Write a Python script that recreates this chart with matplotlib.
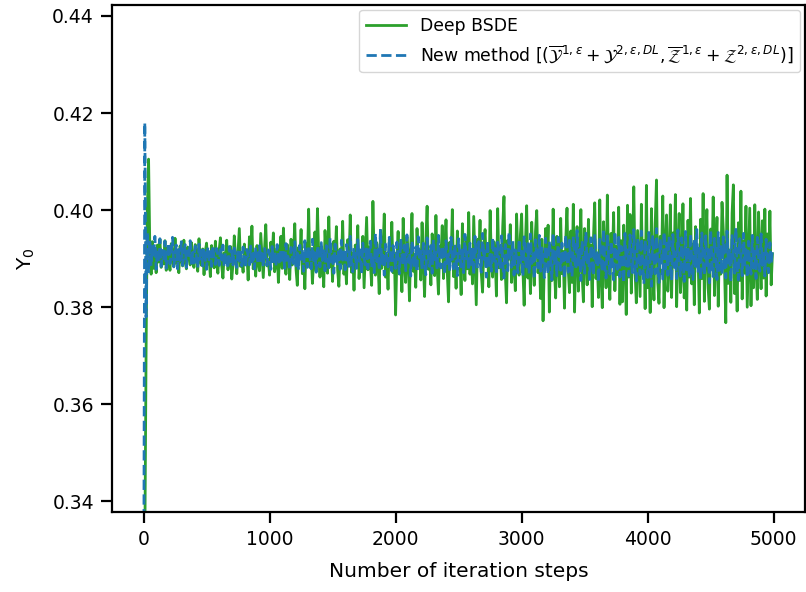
import numpy as np
import matplotlib
matplotlib.use("Agg")
import matplotlib.pyplot as plt

steps = list(range(0, 5000, 10))

deep_bsde = [
    0.3000, 0.3300, 0.3700, 0.4000, 0.4105, 0.3920, 0.3868, 0.3935, 0.3880, 0.3912, 0.3871, 0.3928, 0.3893, 0.3940, 0.3882, 0.3915, 0.3889, 0.3937, 0.3876, 0.3921,
    0.3897, 0.3876, 0.3931, 0.3905, 0.3884, 0.3942, 0.3890, 0.3918, 0.3871, 0.3926, 0.3902, 0.3885, 0.3938, 0.3894, 0.3879, 0.3924, 0.3908, 0.3887, 0.3933, 0.3899,
    0.3882, 0.3929, 0.3910, 0.3874, 0.3941, 0.3895, 0.3886, 0.3920, 0.3867, 0.3914, 0.3932, 0.3889, 0.3903, 0.3863, 0.3927, 0.3898, 0.3881, 0.3936, 0.3892, 0.3870,
    0.3918, 0.3943, 0.3886, 0.3860, 0.3912, 0.3895, 0.3938, 0.3877, 0.3905, 0.3925, 0.3858, 0.3890, 0.3947, 0.3901, 0.3869, 0.3916, 0.3962, 0.3884, 0.3899, 0.3872,
    0.3930, 0.3888, 0.3911, 0.3856, 0.3945, 0.3896, 0.3967, 0.3879, 0.3903, 0.3864, 0.3927, 0.3892, 0.3875, 0.3952, 0.3908, 0.3861, 0.3919, 0.3970, 0.3885, 0.3898,
    0.3866, 0.3934, 0.3901, 0.3953, 0.3873, 0.3889, 0.3922, 0.3851, 0.3910, 0.3946, 0.3880, 0.3963, 0.3894, 0.3868, 0.3929, 0.3904, 0.3857, 0.3940, 0.3887, 0.3915,
    0.3972, 0.3878, 0.3845, 0.3923, 0.3900, 0.3960, 0.3869, 0.3906, 0.3838, 0.3931, 0.3891, 0.4002, 0.3882, 0.3917, 0.3849, 0.3897, 0.3955, 0.3874, 0.4003, 0.3909,
    0.3862, 0.3925, 0.3893, 0.3842, 0.3958, 0.3904, 0.3870, 0.3986, 0.3884, 0.3915, 0.3853, 0.3936, 0.3898, 0.3966, 0.3876, 0.3843, 0.3920, 0.3890, 0.3977, 0.3868,
    0.3905, 0.3848, 0.3939, 0.3886, 0.3990, 0.3872, 0.3911, 0.3835, 0.3928, 0.3895, 0.3968, 0.3859, 0.3902, 0.3882, 0.3946, 0.3840, 0.3914, 0.3985, 0.3877, 0.3924,
    0.3889, 0.3845, 0.4018, 0.3903, 0.3866, 0.3933, 0.3896, 0.3828, 0.3958, 0.3880, 0.3919, 0.3992, 0.3862, 0.3907, 0.3837, 0.3941, 0.3887, 0.3975, 0.3871, 0.3912,
    0.3784, 0.3899, 0.3956, 0.3868, 0.3922, 0.3832, 0.3983, 0.3890, 0.3851, 0.3945, 0.3908, 0.3813, 0.3929, 0.3993, 0.3874, 0.3902, 0.3841, 0.3962, 0.3885, 0.3917,
    0.3856, 0.3974, 0.3893, 0.3822, 0.3937, 0.4008, 0.3878, 0.3912, 0.3846, 0.3951, 0.3897, 0.3865, 0.3989, 0.3883, 0.3827, 0.3926, 0.3904, 0.3968, 0.3859, 0.3915,
    0.3980, 0.3872, 0.3811, 0.3934, 0.3895, 0.4001, 0.3863, 0.3920, 0.3839, 0.3957, 0.3888, 0.3910, 0.3826, 0.3972, 0.3901, 0.3855, 0.3943, 0.3879, 0.3995, 0.3868,
    0.3917, 0.3848, 0.3987, 0.3892, 0.3805, 0.3940, 0.3906, 0.3979, 0.3870, 0.3831, 0.3928, 0.3960, 0.3884, 0.3913, 0.3842, 0.3999, 0.3896, 0.3862, 0.3935, 0.3903,
    0.3823, 0.4003, 0.3881, 0.3924, 0.3857, 0.3966, 0.4028, 0.3874, 0.3809, 0.3938, 0.3899, 0.3970, 0.3851, 0.3918, 0.3887, 0.3834, 0.3992, 0.3905, 0.3866, 0.3948,
    0.3992, 0.3877, 0.3804, 0.3931, 0.4009, 0.3860, 0.3914, 0.3828, 0.3975, 0.3895, 0.3845, 0.3956, 0.3999, 0.3871, 0.3920, 0.3818, 0.3940, 0.3772, 0.3888, 0.3962,
    0.3893, 0.3969, 0.3790, 0.3927, 0.3855, 0.4002, 0.3884, 0.3819, 0.3946, 0.3906, 0.3842, 0.3983, 0.3869, 0.3915, 0.3798, 0.3938, 0.4004, 0.3876, 0.3830, 0.3957,
    0.3851, 0.4012, 0.3790, 0.3923, 0.3966, 0.3833, 0.3898, 0.4001, 0.3867, 0.3811, 0.3962, 0.3909, 0.3846, 0.3981, 0.3875, 0.3928, 0.3801, 0.3944, 0.4015, 0.3859,
    0.3890, 0.3820, 0.4021, 0.3865, 0.3799, 0.3976, 0.3912, 0.3840, 0.4031, 0.3880, 0.3816, 0.3952, 0.3898, 0.3995, 0.3834, 0.3925, 0.3867, 0.4006, 0.3806, 0.3937,
    0.3811, 0.3969, 0.3903, 0.3785, 0.4010, 0.3862, 0.3991, 0.3829, 0.3920, 0.4048, 0.3874, 0.3809, 0.3958, 0.3891, 0.3822, 0.4012, 0.3869, 0.3937, 0.3797, 0.4051,
    0.3840, 0.3902, 0.3789, 0.4003, 0.3881, 0.3815, 0.3972, 0.4062, 0.3852, 0.3808, 0.3946, 0.3894, 0.4029, 0.3799, 0.3925, 0.3990, 0.3833, 0.3879, 0.4011, 0.3820,
    0.3953, 0.3886, 0.4032, 0.3801, 0.3918, 0.3993, 0.3830, 0.3875, 0.4013, 0.3819, 0.3905, 0.3794, 0.3979, 0.3862, 0.4024, 0.3848, 0.3930, 0.3805, 0.3966, 0.3897,
    0.3902, 0.3788, 0.3981, 0.3859, 0.4034, 0.3812, 0.3929, 0.4001, 0.3839, 0.3796, 0.3961, 0.3885, 0.4027, 0.3824, 0.3910, 0.3985, 0.3802, 0.3942, 0.3868, 0.4016,
    0.3960, 0.3878, 0.3768, 0.4072, 0.3849, 0.3913, 0.3810, 0.3994, 0.4052, 0.3828, 0.3906, 0.3792, 0.3974, 0.3855, 0.4039, 0.3817, 0.3936, 0.3870, 0.4008, 0.3800,
    0.3898, 0.4004, 0.3803, 0.3942, 0.3840, 0.4011, 0.3881, 0.3816, 0.3996, 0.3907, 0.3838, 0.3978, 0.3860, 0.4002, 0.3823, 0.3951, 0.3874, 0.3998, 0.3846, 0.3910,
]

new_method = [
    0.3000, 0.4180, 0.3780, 0.3955, 0.3870, 0.3938, 0.3885, 0.3925, 0.3902, 0.3946, 0.3878, 0.3920, 0.3893, 0.3941, 0.3884, 0.3917, 0.3897, 0.3936, 0.3880, 0.3912,
    0.3932, 0.3889, 0.3914, 0.3944, 0.3883, 0.3907, 0.3928, 0.3879, 0.3919, 0.3896, 0.3935, 0.3886, 0.3910, 0.3929, 0.3882, 0.3916, 0.3900, 0.3937, 0.3887, 0.3913,
    0.3891, 0.3926, 0.3903, 0.3881, 0.3930, 0.3896, 0.3918, 0.3885, 0.3922, 0.3901, 0.3878, 0.3924, 0.3894, 0.3915, 0.3884, 0.3927, 0.3899, 0.3888, 0.3921, 0.3906,
    0.3886, 0.3919, 0.3897, 0.3928, 0.3883, 0.3912, 0.3904, 0.3880, 0.3925, 0.3893, 0.3916, 0.3887, 0.3922, 0.3900, 0.3882, 0.3920, 0.3895, 0.3913, 0.3885, 0.3924,
    0.3898, 0.3881, 0.3919, 0.3906, 0.3887, 0.3926, 0.3893, 0.3911, 0.3879, 0.3923, 0.3902, 0.3889, 0.3927, 0.3896, 0.3914, 0.3883, 0.3921, 0.3899, 0.3886, 0.3918,
    0.3907, 0.3878, 0.3925, 0.3894, 0.3916, 0.3884, 0.3929, 0.3901, 0.3888, 0.3920, 0.3892, 0.3913, 0.3880, 0.3931, 0.3897, 0.3909, 0.3876, 0.3923, 0.3903, 0.3890,
    0.3935, 0.3885, 0.3912, 0.3877, 0.3928, 0.3899, 0.3918, 0.3874, 0.3937, 0.3895, 0.3882, 0.3924, 0.3906, 0.3879, 0.3940, 0.3890, 0.3915, 0.3872, 0.3926, 0.3902,
    0.3883, 0.3933, 0.3896, 0.3919, 0.3875, 0.3927, 0.3904, 0.3881, 0.3942, 0.3893, 0.3911, 0.3870, 0.3930, 0.3900, 0.3886, 0.3921, 0.3878, 0.3938, 0.3897, 0.3914,
    0.3877, 0.3929, 0.3905, 0.3884, 0.3946, 0.3891, 0.3873, 0.3922, 0.3909, 0.3880, 0.3939, 0.3895, 0.3918, 0.3868, 0.3932, 0.3901, 0.3887, 0.3925, 0.3879, 0.3913,
    0.3936, 0.3882, 0.3908, 0.3871, 0.3952, 0.3894, 0.3919, 0.3876, 0.3961, 0.3890, 0.3913, 0.3866, 0.3930, 0.3902, 0.3883, 0.3944, 0.3897, 0.3874, 0.3927, 0.3905,
    0.3880, 0.3934, 0.3898, 0.3869, 0.3941, 0.3907, 0.3885, 0.3928, 0.3875, 0.3949, 0.3893, 0.3912, 0.3864, 0.3937, 0.3901, 0.3882, 0.3924, 0.3872, 0.3945, 0.3896,
    0.3915, 0.3878, 0.3932, 0.3889, 0.3867, 0.3943, 0.3904, 0.3884, 0.3927, 0.3870, 0.3939, 0.3898, 0.3913, 0.3876, 0.3948, 0.3892, 0.3881, 0.3926, 0.3906, 0.3868,
    0.3937, 0.3886, 0.3910, 0.3873, 0.3944, 0.3900, 0.3879, 0.3930, 0.3894, 0.3865, 0.3941, 0.3907, 0.3883, 0.3924, 0.3871, 0.3950, 0.3897, 0.3914, 0.3876, 0.3932,
    0.3888, 0.3920, 0.3867, 0.3946, 0.3903, 0.3880, 0.3935, 0.3893, 0.3872, 0.3952, 0.3899, 0.3916, 0.3862, 0.3938, 0.3886, 0.3909, 0.3874, 0.3943, 0.3895, 0.3921,
    0.3869, 0.3934, 0.3902, 0.3878, 0.3947, 0.3890, 0.3860, 0.3929, 0.3911, 0.3875, 0.3955, 0.3896, 0.3882, 0.3936, 0.3866, 0.3918, 0.3903, 0.3871, 0.3940, 0.3892,
    0.3915, 0.3863, 0.3945, 0.3898, 0.3877, 0.3931, 0.3869, 0.3951, 0.3890, 0.3910, 0.3858, 0.3939, 0.3904, 0.3881, 0.3948, 0.3874, 0.3922, 0.3893, 0.3861, 0.3942,
    0.3899, 0.3868, 0.3935, 0.3908, 0.3856, 0.3953, 0.3887, 0.3917, 0.3865, 0.3944, 0.3901, 0.3876, 0.3932, 0.3894, 0.3859, 0.3949, 0.3905, 0.3872, 0.3938, 0.3889,
    0.3863, 0.3946, 0.3900, 0.3879, 0.3958, 0.3884, 0.3919, 0.3855, 0.3937, 0.3896, 0.3870, 0.3955, 0.3892, 0.3912, 0.3857, 0.3943, 0.3906, 0.3866, 0.3950, 0.3887,
    0.3915, 0.3852, 0.3940, 0.3898, 0.3873, 0.3961, 0.3883, 0.3860, 0.3947, 0.3904, 0.3868, 0.3936, 0.3891, 0.3856, 0.3956, 0.3897, 0.3878, 0.3944, 0.3862, 0.3925,
    0.3902, 0.3850, 0.3952, 0.3885, 0.3918, 0.3864, 0.3949, 0.3893, 0.3871, 0.3960, 0.3880, 0.3854, 0.3941, 0.3908, 0.3867, 0.3957, 0.3889, 0.3848, 0.3938, 0.3900,
    0.3861, 0.3954, 0.3883, 0.3843, 0.3948, 0.3896, 0.3869, 0.3962, 0.3887, 0.3851, 0.3940, 0.3911, 0.3858, 0.3955, 0.3879, 0.3932, 0.3866, 0.3946, 0.3892, 0.3855,
    0.3950, 0.3882, 0.3914, 0.3859, 0.3959, 0.3890, 0.3864, 0.3943, 0.3901, 0.3853, 0.3956, 0.3877, 0.3926, 0.3862, 0.3951, 0.3895, 0.3857, 0.3939, 0.3884, 0.3960,
    0.3871, 0.3921, 0.3855, 0.3953, 0.3893, 0.3866, 0.3947, 0.3880, 0.3919, 0.3850, 0.3958, 0.3889, 0.3863, 0.3942, 0.3904, 0.3857, 0.3954, 0.3876, 0.3928, 0.3868,
    0.3945, 0.3885, 0.3860, 0.3957, 0.3891, 0.3918, 0.3852, 0.3950, 0.3899, 0.3870, 0.3963, 0.3881, 0.3856, 0.3941, 0.3906, 0.3865, 0.3952, 0.3887, 0.3923, 0.3861,
    0.3936, 0.3893, 0.3868, 0.3948, 0.3880, 0.3915, 0.3859, 0.3944, 0.3902, 0.3874, 0.3951, 0.3886, 0.3911, 0.3864, 0.3940, 0.3897, 0.3871, 0.3933, 0.3889, 0.3918,
]

x_ticks = [0, 1000, 2000, 3000, 4000, 5000]
y_ticks = [0.34, 0.36, 0.38, 0.40, 0.42, 0.44]

fig = plt.figure(figsize=(8.06, 5.92), dpi=100)
ax = fig.add_axes([0.139, 0.135, 0.860, 0.857])

ax.plot(steps, deep_bsde, color="#2ca02c", lw=2.0, label="Deep BSDE")
ax.plot(steps, new_method, color="#1f77b4", lw=2.0, ls="--",
        label=r"New method [$(\overline{\mathcal{Y}}^{1,\varepsilon}+\mathcal{Y}^{2,\varepsilon,DL},"
              r"\overline{\mathcal{Z}}^{1,\varepsilon}+\mathcal{Z}^{2,\varepsilon,DL})$]")

ax.set_xlim(-250, 5250)
ax.set_ylim(0.3378, 0.4423)
ax.set_xticks(x_ticks)
ax.set_yticks(y_ticks)
ax.set_yticklabels([f"{v:.2f}" for v in y_ticks])
ax.tick_params(labelsize=13.5, width=1.6, length=8, pad=5)
for s in ax.spines.values():
    s.set_linewidth(1.6)
ax.set_xlabel("Number of iteration steps", fontsize=14.5, labelpad=9)
ax.set_ylabel("Y$_0$", fontsize=14.5, labelpad=11)
ax.legend(loc="upper right", fontsize=12.4, handlelength=2.3, borderaxespad=0.3)

fig.savefig("out.png", dpi=100)
